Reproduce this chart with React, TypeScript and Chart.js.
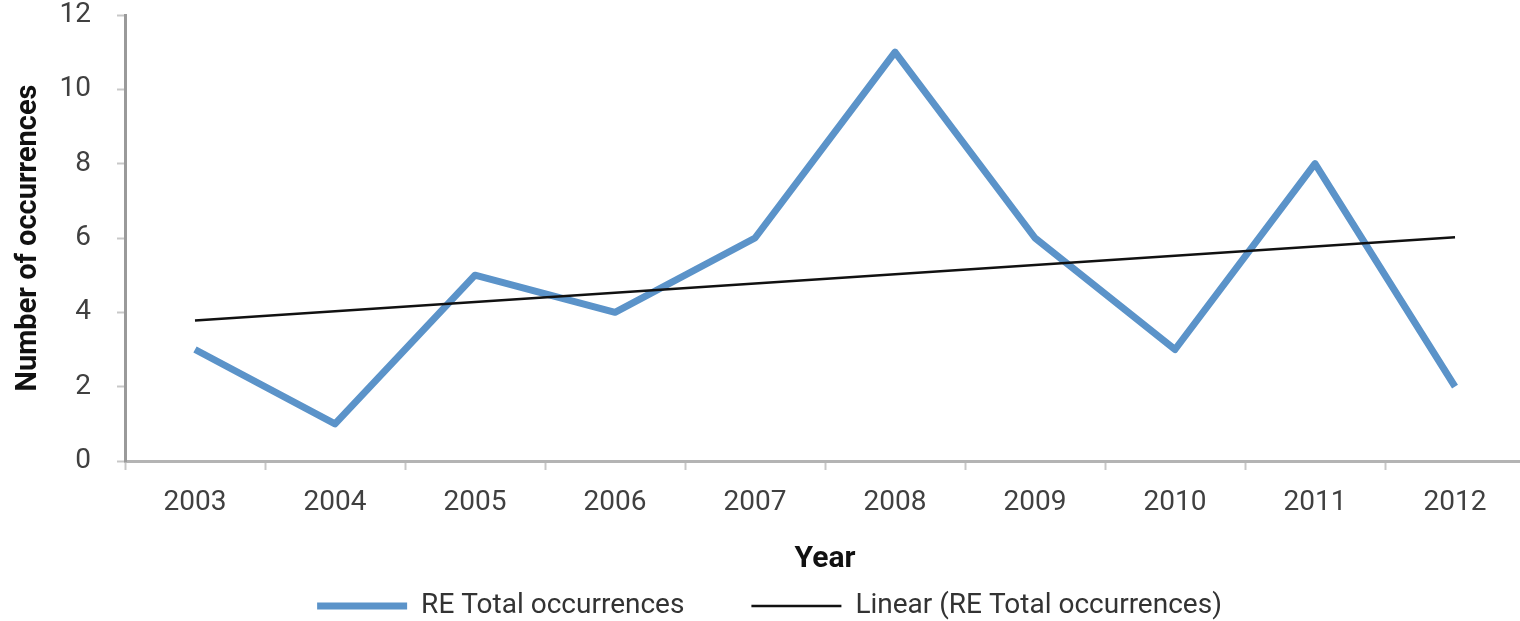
import { useEffect, useRef } from "react";
import { Chart, registerables } from "chart.js";

Chart.register(...registerables);

// Yearly counts
const years = ["2003", "2004", "2005", "2006", "2007", "2008", "2009", "2010", "2011", "2012"];
const occurrences = [3, 1, 5, 4, 6, 11, 6, 3, 8, 2];
// Linear trend line values at the first and last year
const trendEnds = [3.78, 6.02];

// Value axis range
const yMin = 0;
const yMax = 12;
const yStep = 2;

const seriesLabel = "RE Total occurrences";
const trendLabel = "Linear (RE Total occurrences)";
const xTitle = "Year";
const yTitle = "Number of occurrences";

const FONT = "Roboto, 'Liberation Sans', sans-serif";
const CANVAS_W = 1525;
const CANVAS_H = 630;

export default function App() {
  const canvasRef = useRef<HTMLCanvasElement | null>(null);

  useEffect(() => {
    const canvas = canvasRef.current;
    if (!canvas) return;

    const trendData = years.map((_, i) =>
      i === 0 ? trendEnds[0] : i === years.length - 1 ? trendEnds[1] : null
    );

    const chart = new Chart(canvas, {
      type: "line",
      data: {
        labels: years,
        datasets: [
          {
            label: seriesLabel,
            data: occurrences,
            borderColor: "#5b93c9",
            backgroundColor: "#5b93c9",
            borderWidth: 7,
            borderJoinStyle: "round",
            pointRadius: 0,
            tension: 0,
            order: 1,
          },
          {
            label: trendLabel,
            data: trendData,
            borderColor: "#111111",
            backgroundColor: "#111111",
            borderWidth: 2.5,
            pointRadius: 0,
            spanGaps: true,
            tension: 0,
            order: 0,
          },
        ],
      },
      options: {
        responsive: false,
        animation: false,
        devicePixelRatio: 1,
        layout: { padding: { top: 15, left: 14, right: 0, bottom: 0 } },
        plugins: {
          tooltip: { enabled: false },
          legend: {
            position: "bottom",
            labels: {
              usePointStyle: true,
              pointStyle: "line",
              pointStyleWidth: 90,
              padding: 67,
              color: "#333333",
              font: { family: FONT, size: 28 },
              sort: (a, b) => (a.datasetIndex ?? 0) - (b.datasetIndex ?? 0),
            },
          },
        },
        scales: {
          x: {
            offset: true,
            afterFit: (scale) => {
              scale.height = 64;
            },
            grid: {
              offset: true,
              drawOnChartArea: false,
              tickLength: 9,
              tickColor: "#c8c8c8",
              tickWidth: 2,
            },
            border: { color: "#b4b4b4", width: 3 },
            ticks: {
              color: "#404040",
              padding: 16,
              font: { family: FONT, size: 28 },
              maxRotation: 0,
            },
            title: {
              display: true,
              text: xTitle,
              color: "#111111",
              font: { family: FONT, size: 30, weight: "bold" },
              padding: { top: 0, bottom: -52 },
            },
          },
          y: {
            min: yMin,
            max: yMax,
            afterFit: (scale) => {
              scale.width = 111;
              // the top label may sit on the plot edge
              scale.paddingTop = 0;
              scale.paddingBottom = 0;
            },
            grid: {
              drawOnChartArea: false,
              tickLength: 8,
              tickColor: "#c8c8c8",
              tickWidth: 2,
            },
            border: { color: "#9a9a9a", width: 3 },
            ticks: {
              stepSize: yStep,
              color: "#404040",
              padding: 26,
              font: { family: FONT, size: 28, lineHeight: 1 },
            },
            title: {
              display: true,
              text: yTitle,
              color: "#111111",
              font: { family: FONT, size: 29, weight: "bold", lineHeight: 1 },
              padding: { top: 0, bottom: 0 },
            },
          },
        },
      },
    });

    return () => chart.destroy();
  }, []);

  return (
    <div
      style={{
        position: "fixed",
        left: 0,
        top: 0,
        width: 1520,
        height: 621,
        overflow: "hidden",
        background: "#ffffff",
      }}
    >
      <canvas ref={canvasRef} width={CANVAS_W} height={CANVAS_H} />
    </div>
  );
}
